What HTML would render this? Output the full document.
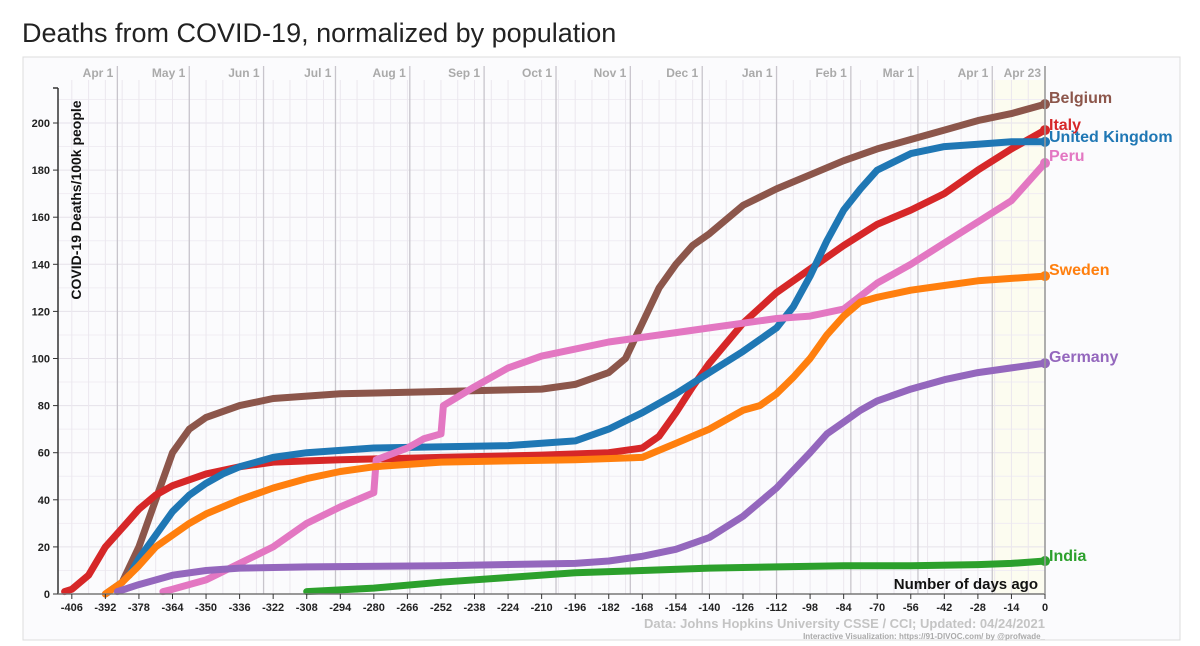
<!DOCTYPE html>
<html><head><meta charset="utf-8"><style>
body{margin:0;width:1200px;height:646px;background:#fff;overflow:hidden;font-family:"Liberation Sans",sans-serif}
svg{position:absolute;left:0;top:0}
</style></head><body>
<svg id="chart" width="1200" height="646" viewBox="0 0 1200 646">
<text x="22" y="42" font-size="27" fill="#222">Deaths from COVID-19, normalized by population</text>
<rect x="23" y="57" width="1157" height="583" fill="#fbfbfd" stroke="#ddd"/>
<g id="grid"></g><g id="series"></g><g id="axes"></g>
</svg>
<script>
const yTicks=[0,20,40,60,80,100,120,140,160,180,200];
const xTicks=[-406,-392,-378,-364,-350,-336,-322,-308,-294,-280,-266,-252,-238,-224,-210,-196,-182,-168,-154,-140,-126,-112,-98,-84,-70,-56,-42,-28,-14,0];
const monthLabels=["Apr 1","May 1","Jun 1","Jul 1","Aug 1","Sep 1","Oct 1","Nov 1","Dec 1","Jan 1","Feb 1","Mar 1","Apr 1","Apr 23"];
const monthDays=[-387,-357,-326,-296,-265,-234,-204,-173,-143,-112,-81,-53,-22,0];
const countries=["Belgium","Italy","United Kingdom","Peru","Sweden","Germany","India"];
const colors=["#8c564b","#d62728","#1f77b4","#e377c2","#ff7f0e","#9467bd","#2ca02c"];
const belgiumDays=[-392,-385,-378,-371,-364,-357,-350,-336,-322,-294,-252,-210,-196,-182,-175,-168,-161,-154,-147,-140,-126,-112,-98,-84,-70,-56,-42,-28,-14,0];
const belgiumVals=[0,5,20,40,60,70,75,80,83,85,86,87,89,94,100,115,130,140,148,153,165,172,178,184,189,193,197,201,204,208];
const italyDays=[-409,-406,-399,-392,-385,-378,-371,-364,-350,-336,-322,-294,-252,-210,-182,-168,-161,-154,-147,-140,-126,-112,-98,-84,-70,-56,-42,-28,-14,0];
const italyVals=[1,2,8,20,28,36,42,46,51,54,56,57,58,59,60,62,67,77,88,98,115,128,138,148,157,163,170,180,189,197];
const ukDays=[-382,-378,-371,-364,-357,-350,-343,-336,-322,-308,-280,-224,-196,-182,-168,-154,-140,-126,-112,-105,-98,-91,-84,-77,-70,-56,-42,-28,-14,0];
const ukVals=[8,15,25,35,42,47,51,54,58,60,62,63,65,70,77,85,94,103,113,122,135,150,163,172,180,187,190,191,192,192];
const peruDays=[-368,-364,-350,-336,-322,-308,-294,-280,-279,-266,-259,-252,-251,-238,-224,-210,-196,-182,-168,-154,-140,-126,-112,-98,-84,-70,-56,-42,-28,-14,0];
const peruVals=[1,2,6,13,20,30,37,43,57,62,66,68,80,88,96,101,104,107,109,111,113,115,117,118,121,132,140,149,158,167,183];
const swedenDays=[-392,-385,-378,-371,-364,-357,-350,-336,-322,-308,-294,-280,-252,-224,-196,-168,-161,-154,-147,-140,-126,-119,-112,-105,-98,-91,-84,-77,-70,-56,-42,-28,-14,0];
const swedenVals=[0,5,12,20,25,30,34,40,45,49,52,54,56,56.5,57,58,61,64,67,70,78,80,85,92,100,110,118,124,126,129,131,133,134,135];
const germanyDays=[-387,-378,-364,-350,-336,-308,-252,-196,-182,-168,-154,-140,-126,-112,-98,-91,-84,-77,-70,-56,-42,-28,-14,0];
const germanyVals=[1,4,8,10,11,11.5,12,13,14,16,19,24,33,45,60,68,73,78,82,87,91,94,96,98];
const indiaDays=[-308,-280,-252,-224,-196,-168,-140,-112,-84,-56,-28,-14,0];
const indiaVals=[1,2.5,5,7,9,10,11,11.5,12,12,12.5,13,14];
const seriesDays=[belgiumDays,italyDays,ukDays,peruDays,swedenDays,germanyDays,indiaDays];
const seriesVals=[belgiumVals,italyVals,ukVals,peruVals,swedenVals,germanyVals,indiaVals];

const X=d=>1045+d*2.397, Y=v=>594-v*2.355;
const NS="http://www.w3.org/2000/svg";
function mk(tag,attrs,parent,text){const e=document.createElementNS(NS,tag);for(const k in attrs)e.setAttribute(k,attrs[k]);if(text!==undefined)e.textContent=text;parent.appendChild(e);return e;}
const grid=document.getElementById('grid'),axes=document.getElementById('axes'),ser=document.getElementById('series');
const x0=58,yTop=80;
mk('rect',{x:X(-22),y:yTop,width:X(0)-X(-22),height:594-yTop,fill:'#fcfcf0'},grid);
for(let v=10;v<=210;v+=10){mk('line',{x1:x0,x2:X(0),y1:Y(v),y2:Y(v),stroke:v%20?'#f0edf3':'#e6e2ea','stroke-width':1},grid);}
for(let d=-406;d<=0;d+=7){mk('line',{x1:X(d),x2:X(d),y1:yTop,y2:594,stroke:'#ebe7ee','stroke-width':1},grid);}
monthDays.forEach((d,i)=>{
 const l=mk('line',{x1:X(d),x2:X(d),y1:66,y2:594,stroke:'#c8c5cc','stroke-width':1.3},grid);
 
 
 const t=mk('text',{x:X(d)-4,y:77,'text-anchor':'end','font-size':12,'font-weight':'bold',fill:'#aaa'},grid,monthLabels[i]);
 
 
});
mk('line',{x1:x0,x2:x0,y1:88,y2:594,stroke:'#333','stroke-width':1.5},axes);
mk('line',{x1:x0-5,x2:x0,y1:88,y2:88,stroke:'#333','stroke-width':1.5},axes);
mk('line',{x1:x0,x2:X(0),y1:594,y2:594,stroke:'#777','stroke-width':1.5},axes);
mk('line',{x1:X(0),x2:X(0),y1:66,y2:594,stroke:'#999','stroke-width':1.5},axes);
yTicks.forEach(v=>{
 mk('line',{x1:x0-5,x2:x0,y1:Y(v),y2:Y(v),stroke:'#333'},axes);
 const t=mk('text',{x:x0-8,y:Y(v)+4,'text-anchor':'end','font-size':11,'font-weight':'bold',fill:'#222'},axes,v);
 
 
});
xTicks.forEach(d=>{
 mk('line',{x1:X(d),x2:X(d),y1:594,y2:599,stroke:'#333'},axes);
 const t=mk('text',{x:X(d),y:611,'text-anchor':'middle','font-size':11,'font-weight':'bold',fill:'#222'},axes,d);
 
 
});
const yt=mk('text',{transform:'translate(81,200) rotate(-90)','text-anchor':'middle','font-size':14,'font-weight':'bold',fill:'#111'},axes,'COVID-19 Deaths/100k people');


const xt=mk('text',{x:1038,y:589,'text-anchor':'end','font-size':15,'font-weight':'bold',fill:'#111'},axes,'Number of days ago');


const s1=mk('text',{x:1045,y:628,'text-anchor':'end','font-size':13,'font-weight':'bold',fill:'#c4c4c4'},axes,'Data: Johns Hopkins University CSSE / CCI; Updated: 04/24/2021');


const s2=mk('text',{x:1045,y:639,'text-anchor':'end','font-size':8,'font-weight':'bold',fill:'#aaa'},axes,'Interactive Visualization: https://91-DIVOC.com/ by @profwade_');


const labelY=[103,130,142,161,275,362,561];
countries.forEach((c,i)=>{
 const ds=seriesDays[i],vs=seriesVals[i];
 const pts=ds.map((d,j)=>X(d).toFixed(1)+','+Y(vs[j]).toFixed(1)).join(' ');
 const p=mk('polyline',{points:pts,fill:'none',stroke:colors[i],'stroke-width':7,'stroke-linejoin':'round','stroke-linecap':'round'},ser);
 
 
 const last=ds.length-1;
 const dot=mk('circle',{cx:X(ds[last]),cy:Y(vs[last]),r:5,fill:colors[i]},ser);
 
 
 const t=mk('text',{x:1049,y:Math.min(labelY[i],Y(vs[last])+6),'font-size':16,'font-weight':'bold',fill:colors[i]},ser,c);
 
 
});
</script>
</body></html>
